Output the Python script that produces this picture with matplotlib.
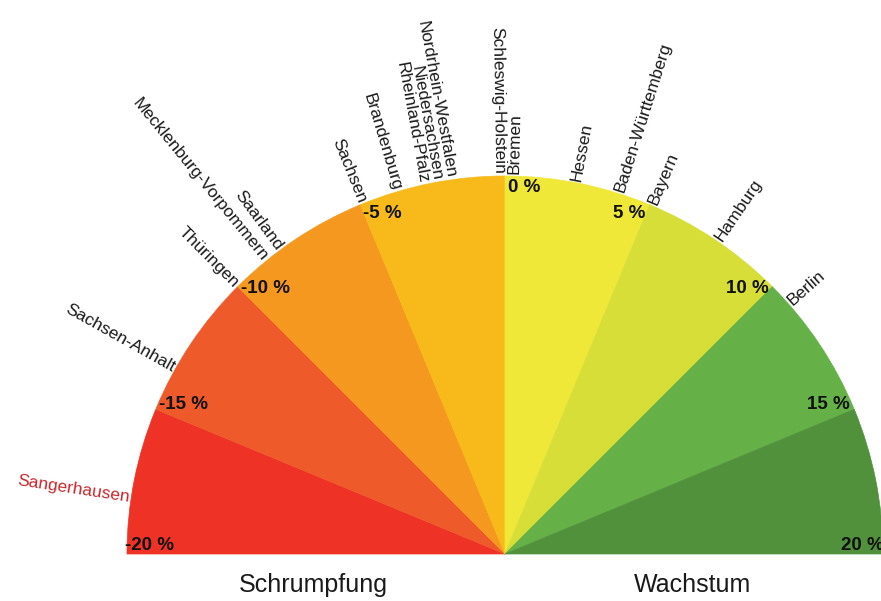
import numpy as np
import matplotlib
matplotlib.use("Agg")
import matplotlib.pyplot as plt
from matplotlib.patches import Wedge

# scale from -20 % (left) to +20 % (right)
bounds = [-20, -15, -10, -5, 0, 5, 10, 15, 20]
sector_colors = ["#EE3226", "#EE5A2A", "#F5981F", "#F7BA1A",
                 "#F0E838", "#D7DE38", "#65B147", "#51913C"]
scale_labels = ["-20 %", "-15 %", "-10 %", "-5 %", "0 %", "5 %", "10 %", "15 %", "20 %"]

regions = ["Sangerhausen", "Sachsen-Anhalt", "Thüringen", "Mecklenburg-Vorpommern",
           "Saarland", "Sachsen", "Brandenburg",
           "Nordrhein-Westfalen\nNiedersachsen\nRheinland-Pfalz",
           "Schleswig-Holstein", "Bremen", "Hessen",
           "Baden-Württemberg", "Bayern", "Hamburg", "Berlin"]
changes = [-18.1, -13.5, -10.0, -8.7, -8.1, -4.9, -3.7, -2.3,
           -0.2, 0.3, 2.4, 3.9, 5.1, 7.6, 10.8]

plt.rcParams["font.family"] = ["Liberation Sans", "DejaVu Sans"]

R_PX = 378  # radius in pixels, 1 data unit


def angle(v):
    return 90 - 4.5 * v


fig = plt.figure(figsize=(8.81, 6.01), dpi=100)
ax = fig.add_axes([0, 0, 1, 1])
ax.set_xlim(-505 / R_PX, 376 / R_PX)
ax.set_ylim(-47 / R_PX, 554 / R_PX)
ax.set_aspect("equal")
ax.axis("off")

for lo, hi, col in zip(bounds[:-1], bounds[1:], sector_colors):
    ax.add_patch(Wedge((0, 0), 1, angle(hi), angle(lo), facecolor=col,
                       edgecolor=col, linewidth=0.5))

# scale labels just inside the arc
for v, lab in zip(bounds, scale_labels):
    t = np.radians(angle(v))
    s = abs(np.sin(t))
    x, y = np.cos(t), np.sin(t)
    y -= (20 * s ** 2 - 8) / R_PX
    if v <= 0:
        x += (3 if v > -20 else -2) / R_PX
        ha = "left"
    else:
        x += (-4 if v < 20 else 1) / R_PX
        ha = "right"
    ax.text(x, y, lab, ha=ha, va="center", fontsize=13.5,
            fontweight="bold", color="#111111")

# region names radiating out of the arc
for name, v in zip(regions, changes):
    a = angle(v)
    t = np.radians(a)
    x, y = 1.005 * np.cos(t), 1.005 * np.sin(t)
    color = "#C8282D" if name == "Sangerhausen" else "#1a1a1a"
    if v < 0:
        ax.text(x, y, name, rotation=a - 180, rotation_mode="anchor",
                ha="right", va="center", multialignment="right",
                fontsize=12.5, color=color, linespacing=0.9)
    else:
        ax.text(x, y, name, rotation=a, rotation_mode="anchor",
                ha="left", va="center", fontsize=12.5, color=color)

ax.text(-0.508, -0.082, "Schrumpfung", ha="center", va="center", fontsize=18,
        color="#1a1a1a")
ax.text(0.497, -0.082, "Wachstum", ha="center", va="center", fontsize=18,
        color="#1a1a1a")

fig.savefig("out.png", dpi=100)
plt.close(fig)
